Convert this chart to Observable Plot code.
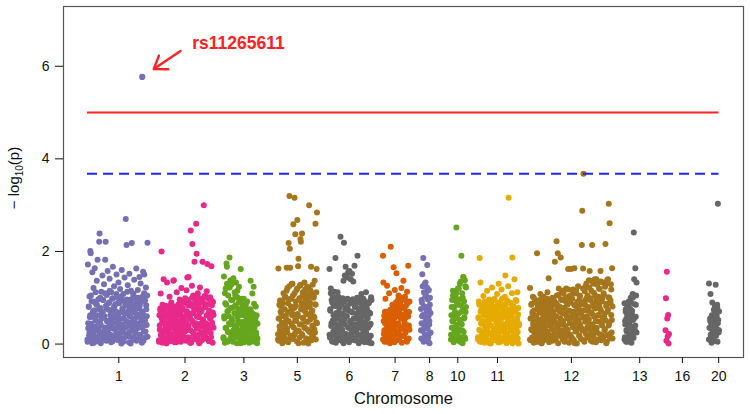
<!DOCTYPE html>
<html>
<head>
<meta charset="utf-8">
<script src="https://cdn.jsdelivr.net/npm/d3@7"></script>
<script src="https://cdn.jsdelivr.net/npm/@observablehq/plot@0.6"></script>
<style>
  html, body { margin: 0; padding: 0; background: #fff; }
</style>
</head>
<body>
<div id="chart"></div>
<script>
// ---- chromosome layout (cumulative position, arbitrary genome units) ----
const chromNames  = ["1","2","3","5","6","7","8","10","11","12","13","16","20"];
const chromColors = ["#7570B3","#E7298A","#66A61E","#A6761D","#666666","#D95F02","#7570B3","#66A61E","#E6AB02","#A6761D","#666666","#E7298A","#666666"];
const chromStart  = [24, 95.5, 160, 214.5, 266, 319.5, 357.5, 387.5, 414.5, 466.5, 561, 602, 645.5];
const chromEnd    = [84, 150, 194, 253.5, 308, 346, 367, 402.5, 455.5, 549, 573, 605.5, 655.5];
const chromTick   = [55.3, 121.5, 180.4, 233.8, 285.9, 331.6, 366.1, 394.3, 434, 507.9, 576.2, 618.9, 655.2];

// ---- -log10(p) values per chromosome, in SNP order (array set A) ----
const chr1 = [.05,1.72,.34,.81,.19,1.03,.58,2.01,1.96,.44, .92,.12,1.55,.66,.27,1.21,.03,.73,1.64,.38,
  .51,.87,.15,1.37,.62,1.82,.09,.97,.31,2.21, 2.39,.46,.78,.02,1.13,.55,.24,1.48,.69,.95,
  .17,1.29,.6,.36,1.82,2.21,.83,.07,1.06,.49, 1.58,.29,.74,.11,.9,1.41,.52,.2,.64,1.12,
  .4,.98,.06,1.67,.33,.79,1.25,.57,.14,.86, .71,.23,1.5,.45,1.01,.09,.63,1.33,.37,.88,
  .18,1.19,.54,.93,.01,1.6,.42,.76,.26,1.08, .67,.13,1.44,.35,.84,2.70,.5,2.14,.96,.21,
  1.27,.39,.72,.04,1.52,.61,.89,.16,1.15,.47, 2.18,.3,.82,.55,1.09,.1,1.39,.68,.25,.99,
  .43,1.63,.07,.77,.34,1.17,.59,.91,.2,1.45, .85,.12,1.31,.48,.7,.03,1.02,.38,1.56,.62,
  .27,1.5,.53,.94,.15,1.22,.75,.41,1.05,2.19];
const chr2 = [.08,.62,.31,.77,1.09,.19,2.0,.45,.03,.56, .7,1.4,.24,.51,.11,.83,.37,.02,.66,1.33,
  .43,.15,.79,.29,.58,1.02,.06,.72,.35,.9, .21,.64,.47,.13,1.37,1.38,.81,.04,.55,.28,
  .74,.39,1.12,.17,.61,.08,.86,.49,.26,.96, .33,.69,.05,1.21,.52,.18,.78,.41,.92,.12,
  .6,.27,.99,.45,.07,1.16,.71,1.44,.36,.84, 1.45,.14,.57,.88,.3,2.45,.03,.66,1.26,2.16,
  .48,1.05,.22,.76,1.78,.4,.95,.1,2.6,1.95, .59,.16,1.1,.34,.82,.02,.68,1.22,.44,.97,
  .25,.73,.09,1.78,.53,.89,3.0,.37,1.04,.19, .8,.45,.12,1.14,1.73,.62,.28,.98,.06,.7,
  .35,1.01,.56,.15,1.68,.84,.42,.03,.91,.63];
const chr3 = [.12,1.46,.55,.03,.88,1.2,.34,1.74,1.67,.71, .26,1.05,.6,.09,1.87,.42,1.38,.78,.17,1.29,
  .5,.95,.05,1.42,.31,.67,1.12,.2,.84,1.33, .38,.02,1.01,.58,.14,.76,1.24,.45,.91,.27,
  1.62,.09,.63,.33,.86,.48,.18,.98,.04,.7, .4,.22,.79,.07,.57,.92,.29,.13,.66,.47,
  .03,.52,.24,1.37,.69,.15,.41,1.09,.06,.58, 1.24,.87,.35,.1,.49,.81,.21,.62,.02,.44];
const chr5 = [.21,1.63,.07,.55,.38,.94,.82,.13,.67,.3, .46,.02,.88,.24,1.1,.6,.15,.75,.41,1.02,
  .09,.52,1.65,.33,1.21,.7,.04,2.18,.97,3.2, 2.06,1.65,.18,.81,.44,1.3,.62,.11,1.05,2.59,
  .36,.78,3.16,.23,2.37,.92,.5,1.17,.06,2.68, .65,1.68,1.84,.28,.99,.14,1.26,2.27,2.21,.43,
  .85,2.39,.19,1.12,.57,.03,.73,1.33,.35,.96, .48,1.08,.12,.8,1.24,.31,.64,.01,1.01,3.0,
  .26,.9,.53,1.15,1.67,.08,.71,.39,1.28,.17, .6,1.03,.32,1.37,.86,2.6,.1,.47,1.62,2.84];
const chr6 = [1.62,.14,.72,1.2,.39,.95,.06,1.05,.51,.27, .83,.2,1.13,.45,1.86,.03,.67,.34,.9,.12,
  .58,1.02,.25,.78,.09,.41,2.32,.63,.16,.87, .31,.99,.05,1.37,2.19,.53,1.48,.74,1.67,.22,
  .6,.11,1.44,.82,1.55,.36,.04,1.58,.93,.47, 1.4,.18,.7,1.52,.29,.97,1.35,.55,.08,1.69,
  .43,.86,.13,.66,.24,1.0,1.91,.37,.77,.02, .52,.91,.19,.69,.07,1.08,.33,.81,.46,.15,
  .98,.28,.61,.04,.85,.4,1.12,.21,.73,.1, .56,.35,.89,.12,.68,.03,.94,.44,1.01,.02];
const chr7 = [1.91,1.33,.22,.61,.05,.45,.98,.13,.7,.34,1.26, .52,.08,.66,.27,1.1,.41,.02,.74,2.1,.19,.57,
  .3,.85,.11,.49,1.66,.68,.04,1.17,.38,.79,.2, 1.53,.62,.09,.93,.44,1.05,.26,.71,.15,.87,.36,
  .55,1.21,.03,.78,.33,.96,1.37,.18,.64,.47,1.02, .24,.82,.58,.07,1.13,.4,.91,1.69,.12,.69,.31];
const chr8 = [.76,.12,.45,.9,1.51,.28,.63,1.86,.05,1.12,.37,.81,.2,1.02,1.33,
  .54,.09,.71,1.22,1.71,.33,.96,.15,.6,1.17,.42,.02,.85,.24,.67];
const chr10 = [.1,.62,.35,.95,.18,1.15,.48,.04,.8,.27,.7,1.05,.13,.56,2.52,.41,.88,.22,1.2,.66,
  .07,.97,.31,1.3,.52,.15,.84,1.91,.43,1.1,.02,.74,1.45,.26,.92,.58,1.38,.11,.69,1.22];
const chr11 = [.15,.58,.92,.31,1.86,.05,1.33,.72,.44,.2, .83,.1,.5,1.04,.27,.66,.03,.88,.38,.74,
  .13,.61,1.15,.35,.8,.07,.47,.96,.22,.69, .4,.01,.86,.55,1.22,.18,.77,.29,.63,.09,
  .98,.33,.57,.12,.81,.45,1.08,.24,.7,.04, 1.3,.52,.16,.9,.37,.65,.06,1.18,.28,.79,
  .43,.11,.85,.6,.25,1.02,1.48,.34,.73,.02, .56,.94,.19,1.25,3.16,.4,.67,.08,.89,.3,
  .62,.14,1.1,1.87,.49,.82,.23,.71,1.4,.05, .36,.76,.17,.93,.53,1.12,.26,.64,.01,.44];
const chr12 = [1.21,.08,.55,.32,.87,.14,.66,1.02,.41,.03, .73,.25,.95,.49,.11,.6,.36,1.96,.19,.82,
  .05,.44,.9,.28,.68,1.08,.15,.53,.02,.77, .38,.97,.21,1.02,.62,.09,.47,.84,.3,.71,
  .13,.58,1.12,.26,.92,1.42,.04,.69,.4,.86, .51,.17,.79,.33,1.0,.07,.64,.45,.94,.23,
  1.78,.6,.12,.88,2.22,.35,.74,1.96,.02,1.06, .42,.81,.19,.56,1.87,.97,.3,1.15,.67,.1,
  .5,1.1,.24,.78,.06,.93,.39,1.2,.61,.16, .85,.31,1.62,.72,.03,1.04,.46,.9,.2,1.62,
  .57,.13,.98,.37,1.18,.7,.08,1.64,.44,.83, .27,1.09,.63,.01,.91,.34,1.25,.52,.76,.18,
  1.0,.41,.86,.11,.65,2.14,2.88,.29,1.63,3.68, .73,.05,1.14,.48,.95,.22,1.31,.6,.36,1.05,
  .14,.8,.53,1.22,1.58,.31,.99,.07,.68,1.36, 2.14,.43,.88,.17,1.11,.59,1.4,.26,.77,.04,
  .96,.35,1.28,.62,.1,1.02,.49,.83,1.19,.21, 1.58,.72,.08,.92,.4,1.33,.56,.15,1.07,.66,
  .3,1.24,2.16,.51,.02,.87,1.38,.19,.74,1.01, 3.03,.45,2.61,.12,.94,1.29,.63,.25,1.64,.81];
const chr13 = [.88,.15,.42,.7,.05,.55,.27,.8,.12,.61,.34,.92,.08,.48,.2,.75,1.0,.38,.03,.66,
  .24,1.08,.52,.13,2.41,1.4,.86,.3,1.64,.59,1.05,1.33];
const chr16 = [.3,.99,.07,1.56,.55,.17,.63,.01,.22];
const chr20 = [1.31,.1,.35,.55,1.08,.2,.46,.03,.62,.9,.28,.14,.5,.74,.07,.39,.82,.6,1.28,.18,
  .68,.33,.85,.05,3.03,.52,.25,.71];

// ---- second interleaved SNP set per chromosome (array set B, dense low values) ----
const chr1b = [.1,.45,.8,.25,.62,1.05,.35,.02,.7,.92,.18,.55,1.12,.3,.85,.06,.48,.75,.22,1.0,
  .4,.65,.12,.95,.58,.28,1.1,.08,.78,.5,.2,.88,.38,1.15,.62,.04,.72,.46,.99,.15,
  .82,.33,.6,1.08,.24,.52,.9,.11,.68,.42,1.02,.3,.77,.05,.56,.94,.36,.66,.17,1.13,
  .47,.83,.26,.6,.01,.97,.39,.73,1.06,.14,.53,.87,.32,.64,.09,1.0,.44,.79,.2,.58,
  .92,.35,.7,.07,1.1,.5,.27,.84,.6,.16];
const chr2b = [.05,.4,.72,.2,.55,.85,.3,.12,.64,.45,.78,.02,.35,.6,.25,.82,.48,.1,.7,.38,
  .58,.15,.8,.32,.66,.04,.5,.76,.22,.42,.85,.62,.08,.36,.74,.18,.55,.9,.28,.47,
  .7,.14,.95,.4,.6,.03,.83,.52,1.0,.26,.66,.11,.88,.45,.75,.33,1.05,.2,.58,.92,
  .06,.7,.38,.98,.5,.16,.8,.3,1.02,.62,.42,.86,.1,.72,.55,.24,.94,.46,.68,.35];
const chr3b = [.15,.6,1.1,.35,.85,1.3,.05,.72,.45,1.22,.25,.95,.55,1.35,.12,.8,.4,1.05,.65,.3,
  1.15,.5,.9,.2,.7,.02,.98,.42,.78,.28,.62,.1,.85,.48,.22,.7,.35,.58,.08,.75,
  .3,.52,.15,.65,.4,.05,.55,.25,.45,.12];
const chr5b = [.1,.55,.85,.3,.7,.2,.92,.45,.05,.75,1.0,.35,.6,1.15,.25,.88,.5,1.25,.12,.7,
  .98,.4,1.3,.65,.18,1.1,.52,.82,.3,1.2,.6,.02,.95,.42,1.28,.75,.22,1.05,.55,.88,
  .35,1.18,.68,.1,.92,.48,1.22,.28,.8,.62,1.1,.15,.72,.4,1.0,.58,.25,.85,1.12,.45];
const chr6b = [.2,.75,1.1,.45,.9,.05,.62,1.0,.3,.82,.15,.55,1.12,.38,.7,.95,.1,.5,.85,.28,
  .65,.02,.92,.42,.78,.18,.6,.98,.35,.72,.08,.5,.88,.25,.68,.95,.4,.12,.8,.55,
  .3,.9,.62,.05,.75,.45,.98,.2,.58,.85,.35,.7,.1,.92,.48,.25,.78,.62,.04,.88,
  .4,.66,.18,.95];
const chr7b = [.1,.5,.3,.7,.2,.6,.05,.42,.68,.25,.55,.15,.72,.38,.62,.08,.48,.7,.32,.58,
  .9,.22,.75,.45,.98,.12,.65,.85,.35,1.0,.55,.18,.8,.42,.95,.28,.7,.05,.88,.6,
  .4,.92];
const chr8b = [.3,.95,.6,1.25,.1,.8,.45,1.3,.2,1.05,.65,.35,1.15,.05,.75,.5,1.0,.25];
const chr10b = [.2,.8,.5,1.05,.1,.65,.95,.35,1.1,.58,.25,.85,1.2,.45,.05,1.35,.7,.3,1.0,1.45,.55,.15,1.25,.8];
const chr11b = [.1,.55,.85,.3,.7,.45,.05,.78,.2,.62,.92,.38,.15,.68,.5,.88,.25,.75,.02,.58,
  .4,.82,.12,.65,.95,.32,.52,.08,.72,.45,.9,.18,.6,.35,.8,.05,.55,.98,.28,.7,
  .42,.15,.85,.62,.22,.92,.5,.1,.75,.38,.88,.3,.6,.02,.8,.45,.18,.7,.95,.35,
  .55,.12,.78,.4];
const chr12b = [.1,.55,.85,.3,.7,.45,1.0,.2,.62,.05,.9,.38,.75,.15,.52,.95,.28,.68,.02,.82,
  .42,.6,.12,.88,.35,.72,.5,.98,.22,.65,.08,.8,.4,.58,.92,.18,.7,.3,.85,.48,
  .1,.6,1.05,.35,.82,1.2,.25,.7,.5,.95,.15,1.12,.42,.78,.05,.65,1.0,.3,.88,.55,
  1.18,.2,.72,.45,.98,.12,.62,1.1,.38,.85,.02,.52,1.15,.28,.75,.92,.48,.18,1.05,.68,
  .35,.9,.58,1.2,.08, .3,.85,1.25,.55,1.0,.15,.72,1.38,.42,.95,.2,1.15,.65,.05,1.3,
  .8,.35,1.05,.5,1.4,.25,.9,.62,1.2,.1,.75,1.35,.45,.98,.18,1.1,.6,.32,1.28,.82,
  .05,.7,1.4,.4,1.0,.22,.88,1.18,.52,.12];
const chr13b = [.1,.5,.75,.3,.65,.05,.45,.8,.2,.6,.9,.35,.72,1.0,.15,.55,1.05,.4,.85,.25];
const chr16b = [];
const chr20b = [.1,.35,.5,.2,.45,.05,.3,.55,.15,.65,.4,.75,.25,.6,.8,.45,.7,.3];

const chromValues  = [chr1, chr2, chr3, chr5, chr6, chr7, chr8, chr10, chr11, chr12, chr13, chr16, chr20];
const chromValuesB = [chr1b, chr2b, chr3b, chr5b, chr6b, chr7b, chr8b, chr10b, chr11b, chr12b, chr13b, chr16b, chr20b];

// top hit
const topSnp = {id: "rs11265611", chr: "1", pos: 78.7, logp: 5.77};

// thresholds
const genomeWide = 5;
const suggestive = 3.68;

// axis
const yTicks = [0, 2, 4, 6];
const yDomain = [-0.29, 7.29];
const xDomain = [0, 680];
const xLabel = "Chromosome";
const yLabelParts = ["\u2212 log", "10", "(p)"];

// ---- build table ----
function layout(lists) {
  return chromNames.flatMap((c, k) => {
    const vals = lists[k];
    const n = vals.length;
    return vals.map((v, i) => ({
      chr: c,
      pos: chromStart[k] + (n > 1 ? i * (chromEnd[k] - chromStart[k]) / (n - 1) : 0),
      logp: v
    }));
  });
}
const snps = layout(chromValuesB).concat(layout(chromValues));

const xFrom = chromStart[0], xTo = chromEnd[chromEnd.length - 1];

const chart = Plot.plot({
  width: 750,
  height: 414,
  marginLeft: 63,
  marginRight: 7,
  marginTop: 6,
  marginBottom: 57,
  style: {fontFamily: "'Liberation Sans', Arial, sans-serif", fontSize: "14px", color: "#111", background: "#fff"},
  x: {domain: xDomain},
  y: {domain: yDomain},
  color: {domain: chromNames, range: chromColors},
  marks: [
    Plot.dot(snps, {x: "pos", y: "logp", fill: "chr", r: 3}),
    Plot.dot([topSnp], {x: "pos", y: "logp", fill: "chr", r: 3.1}),
    Plot.ruleY([genomeWide], {y: d => d, x1: () => xFrom, x2: () => xTo, stroke: "#ff2222", strokeWidth: 2}),
    Plot.ruleY([suggestive], {y: d => d, x1: () => xFrom, x2: () => xTo, stroke: "#2222ff", strokeWidth: 2, strokeDasharray: "10,6"}),
    Plot.arrow([topSnp], {
      x1: d => d.pos + 38.3, y1: d => d.logp + 0.56, x2: "pos", y2: "logp",
      insetEnd: 14, stroke: "#ff2222", strokeWidth: 2.4, headLength: 9, headAngle: 70
    }),
    Plot.text([topSnp], {
      x: "pos", y: "logp", text: "id", dx: 50, dy: -33, textAnchor: "start",
      fill: "#ff2222", fontWeight: "bold", fontSize: 17.5
    }),
    Plot.frame({stroke: "#555", strokeWidth: 1.2}),
    Plot.axisY({ticks: yTicks, tickSize: 8, tickPadding: 6, label: null, fontSize: 14}),
    Plot.axisX({
      ticks: chromTick, tickFormat: d => chromNames[chromTick.indexOf(d)],
      tickSize: 6, tickPadding: 8, label: null, fontSize: 14
    }),
    Plot.text([xLabel], {text: d => d, frameAnchor: "bottom", dy: 46, fontSize: 16.5, fill: "#111"})
  ]
});

// y-axis title with a true subscript
const yt = d3.select(chart).append("text")
  .attr("transform", "translate(19,178) rotate(-90)")
  .attr("text-anchor", "middle")
  .style("font-size", "15px")
  .style("fill", "#111111");
yt.append("tspan").text(yLabelParts[0]);
yt.append("tspan").style("font-size", "10px").attr("dy", 4).text(yLabelParts[1]);
yt.append("tspan").attr("dy", -4).text(yLabelParts[2]);

document.getElementById("chart").appendChild(chart);
</script>
</body>
</html>
